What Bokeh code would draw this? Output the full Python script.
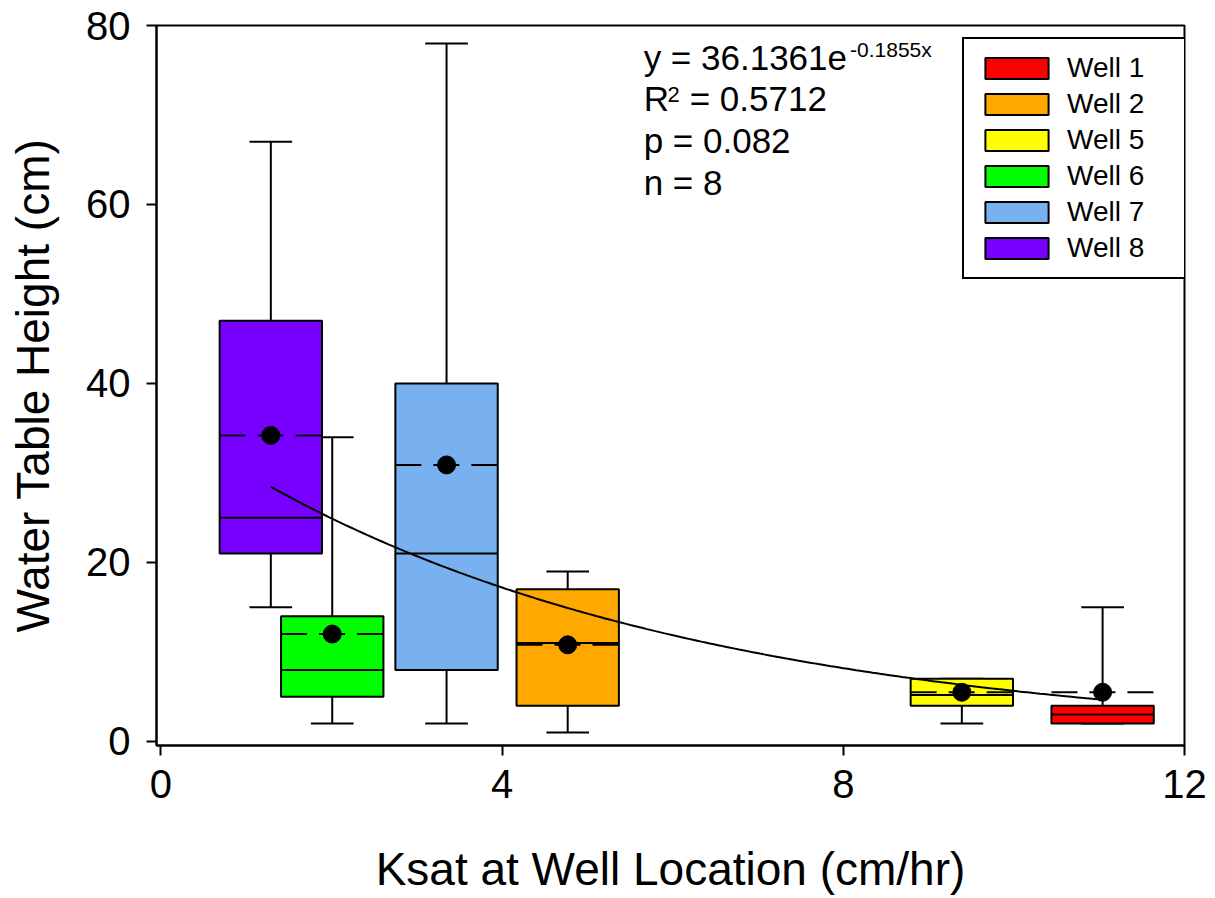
import numpy as np
from bokeh.plotting import figure
from bokeh.models import (ColumnDataSource, FixedTicker, Legend, LegendItem, Label, Range1d)
from bokeh.embed import file_html
from bokeh.resources import INLINE

# ---- data ----
wells = ["Well 1", "Well 2", "Well 5", "Well 6", "Well 7", "Well 8"]
ksat = [11.04, 4.77, 9.39, 2.01, 3.35, 1.29]
lower_whisker = [2.0, 1.0, 2.0, 2.0, 2.0, 15.0]
q1 = [2.0, 4.0, 4.0, 5.0, 8.0, 21.0]
median = [3.0, 11.0, 5.2, 8.0, 21.0, 25.0]
q3 = [4.0, 17.0, 7.0, 14.0, 40.0, 47.0]
upper_whisker = [15.0, 19.0, 7.0, 34.0, 78.0, 67.0]
mean = [5.5, 10.8, 5.5, 12.0, 30.9, 34.2]
colors = ["#FF0000", "#FFA800", "#FFFF00", "#00FF00", "#78B0F0", "#7700FF"]

# fitted model shown on the chart: y = a * exp(b * x)
fit_a = 36.1361
fit_b = -0.1855
x_ticks = [0, 4, 8, 12]
y_ticks = [0, 20, 40, 60, 80]

FONT = "Liberation Sans"
box_w = 1.2
cap_w = 0.5

p = figure(width=1215, height=898, output_backend="svg", toolbar_location=None,
           x_range=Range1d(-0.05, 12), y_range=Range1d(-0.45, 80),
           min_border_left=156, min_border_right=31, min_border_top=25,
           min_border_bottom=153)
p.grid.visible = False
p.outline_line_color = "black"
p.outline_line_width = 2
p.background_fill_color = "white"
p.border_fill_color = "white"

for ax in (p.xaxis[0], p.yaxis[0]):
    ax.axis_line_width = 2
    ax.major_tick_line_width = 2
    ax.major_tick_out = 10
    ax.major_tick_in = 0
    ax.minor_tick_line_color = None
    ax.major_label_text_font = FONT
    ax.major_label_text_font_size = "40px"
    ax.axis_label_text_font = FONT
    ax.axis_label_text_font_size = "46px"
    ax.axis_label_text_font_style = "normal"
    ax.major_label_text_color = "black"
    ax.axis_label_text_color = "black"

p.xaxis.ticker = FixedTicker(ticks=x_ticks)
p.yaxis.ticker = FixedTicker(ticks=y_ticks)
p.xaxis.axis_label = "Ksat at Well Location (cm/hr)"
p.yaxis.axis_label = "Water Table Height (cm)"
p.xaxis.major_label_standoff = 14
p.yaxis.major_label_standoff = 16
p.xaxis.axis_label_standoff = 42
p.yaxis.axis_label_standoff = 24

src = ColumnDataSource(dict(
    well=wells, x=ksat, lw=lower_whisker, q1=q1, med=median, q3=q3,
    uw=upper_whisker, mean=mean, color=colors,
    left=[v - box_w / 2 for v in ksat], right=[v + box_w / 2 for v in ksat],
    cl=[v - cap_w / 2 for v in ksat], cr=[v + cap_w / 2 for v in ksat],
))

# whiskers and caps (below boxes)
p.segment(x0="x", y0="lw", x1="x", y1="uw", source=src, line_color="black", line_width=2)
p.segment(x0="cl", y0="uw", x1="cr", y1="uw", source=src, line_color="black", line_width=2)
p.segment(x0="cl", y0="lw", x1="cr", y1="lw", source=src, line_color="black", line_width=2)

boxes = p.quad(left="left", right="right", bottom="q1", top="q3", source=src,
               fill_color="color", line_color="black", line_width=2)

p.segment(x0="left", y0="med", x1="right", y1="med", source=src, line_color="black", line_width=2)
p.segment(x0="left", y0="mean", x1="right", y1="mean", source=src, line_color="black",
          line_width=2, line_dash="26 12")

xs = np.linspace(min(ksat), max(ksat), 200)
p.line(xs, fit_a * np.exp(fit_b * xs), line_color="black", line_width=2)

p.scatter(x="x", y="mean", source=src, size=18, fill_color="black", line_color="black")

# legend
items = [LegendItem(label=w, renderers=[boxes], index=i) for i, w in enumerate(wells)]
legend = Legend(items=items, location=(806, 466), padding=13, margin=0,
                glyph_width=79, glyph_height=26, label_height=32, label_width=105,
                spacing=4, label_standoff=11,
                label_text_font=FONT, label_text_font_size="28px",
                label_text_color="black",
                border_line_color="black", border_line_width=2, border_line_alpha=1.0,
                background_fill_color="white", background_fill_alpha=1.0)
p.add_layout(legend, "center")

# equation annotation
txt = dict(text_font=FONT, text_color="black", text_baseline="alphabetic")
p.add_layout(Label(x=5.66, y=76.4, text="y = 36.1361e", text_font_size="35px", **txt))
p.add_layout(Label(x=8.08, y=77.3, text="-0.1855x", text_font_size="21px", **txt))
p.add_layout(Label(x=5.66, y=71.8, text="R", text_font_size="35px", **txt))
p.add_layout(Label(x=5.94, y=72.3, text="2", text_font_size="22px", **txt))
p.add_layout(Label(x=6.20, y=71.8, text=" = 0.5712", text_font_size="35px", **txt))
p.add_layout(Label(x=5.66, y=67.2, text="p = 0.082", text_font_size="35px", **txt))
p.add_layout(Label(x=5.66, y=62.5, text="n = 8", text_font_size="35px", **txt))

open("out.html", "w").write(file_html(p, INLINE))
